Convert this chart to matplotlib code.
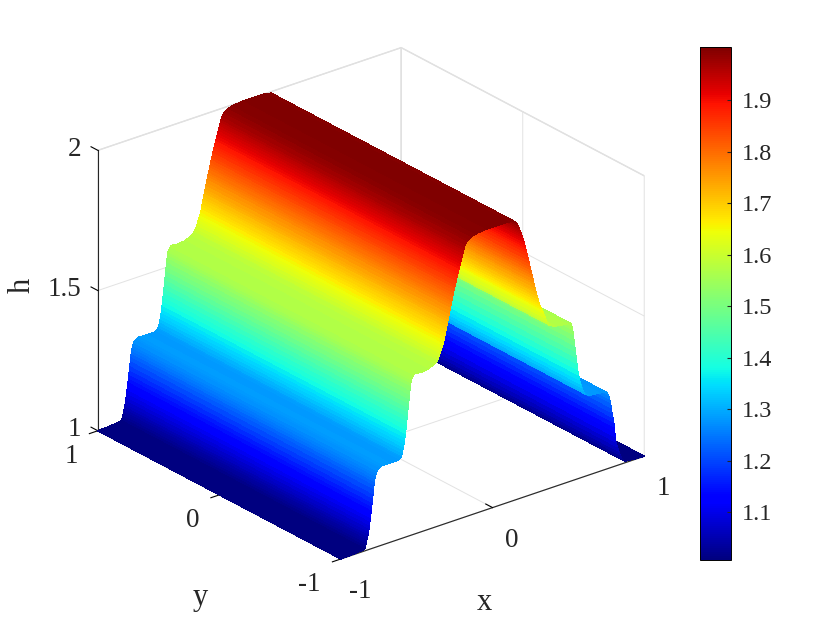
import matplotlib
matplotlib.use('Agg')
import matplotlib.pyplot as plt
import numpy as np
from matplotlib.cm import ScalarMappable
from matplotlib.colors import Normalize

plt.rcParams['font.family'] = ['Liberation Serif', 'DejaVu Serif']

x_vals = [-1.0, -0.92, -0.847, -0.84, -0.836, -0.833, -0.83, -0.827, -0.824, -0.821, -0.818, -0.815, -0.812,
          -0.809, -0.806, -0.803, -0.8, -0.797, -0.794, -0.791, -0.788, -0.785, -0.782, -0.779, -0.776, -0.772,
          -0.768, -0.762, -0.755, -0.746, -0.73, -0.68, -0.622, -0.61, -0.604, -0.6, -0.596, -0.592, -0.588,
          -0.584, -0.581, -0.578, -0.575, -0.572, -0.569, -0.566, -0.563, -0.56, -0.557, -0.554, -0.551, -0.548,
          -0.545, -0.542, -0.539, -0.536, -0.531, -0.526, -0.514, -0.471, -0.43, -0.386, -0.368, -0.36, -0.352,
          -0.346, -0.34, -0.335, -0.33, -0.325, -0.32, -0.316, -0.313, -0.31, -0.306, -0.303, -0.3, -0.296,
          -0.293, -0.29, -0.286, -0.282, -0.278, -0.274, -0.271, -0.268, -0.264, -0.261, -0.258, -0.254, -0.25,
          -0.246, -0.243, -0.24, -0.236, -0.232, -0.228, -0.224, -0.22, -0.216, -0.212, -0.208, -0.204, -0.2,
          -0.196, -0.193, -0.19, -0.186, -0.18, -0.172, -0.164, -0.148, -0.12, -0.094, -0.05, 0.0, 0.05, 0.1,
          0.142, 0.15, 0.158, 0.166, 0.174, 0.18, 0.185, 0.19, 0.196, 0.201, 0.206, 0.21, 0.215, 0.22, 0.225,
          0.23, 0.236, 0.241, 0.246, 0.25, 0.255, 0.259, 0.264, 0.269, 0.273, 0.278, 0.283, 0.287, 0.292, 0.297,
          0.302, 0.308, 0.315, 0.322, 0.329, 0.336, 0.346, 0.356, 0.368, 0.38, 0.41, 0.486, 0.518, 0.522, 0.526,
          0.532, 0.536, 0.54, 0.545, 0.55, 0.555, 0.56, 0.566, 0.572, 0.58, 0.588, 0.596, 0.604, 0.618, 0.636,
          0.7, 0.754, 0.759, 0.764, 0.77, 0.776, 0.781, 0.786, 0.792, 0.798, 0.801, 0.804, 0.808, 0.812, 0.82,
          0.83, 0.84, 0.85, 0.86, 0.872, 0.94, 1.0]
h_vals = [1.0, 1.002, 1.006, 1.012, 1.02, 1.028, 1.035, 1.041, 1.049, 1.057, 1.066, 1.077, 1.088,
          1.101, 1.113, 1.126, 1.14, 1.152, 1.165, 1.18, 1.195, 1.212, 1.226, 1.237, 1.246, 1.255,
          1.263, 1.272, 1.277, 1.28, 1.284, 1.283, 1.283, 1.288, 1.292, 1.296, 1.305, 1.315, 1.325,
          1.335, 1.346, 1.357, 1.371, 1.385, 1.4, 1.415, 1.43, 1.445, 1.46, 1.475, 1.49, 1.505,
          1.52, 1.535, 1.545, 1.554, 1.56, 1.565, 1.572, 1.569, 1.572, 1.581, 1.59, 1.597, 1.605,
          1.615, 1.625, 1.632, 1.64, 1.648, 1.657, 1.668, 1.677, 1.685, 1.695, 1.702, 1.71, 1.72,
          1.727, 1.735, 1.746, 1.756, 1.767, 1.776, 1.783, 1.79, 1.8, 1.807, 1.815, 1.823, 1.832,
          1.84, 1.847, 1.855, 1.865, 1.872, 1.879, 1.886, 1.894, 1.902, 1.91, 1.918, 1.927, 1.935,
          1.943, 1.949, 1.955, 1.962, 1.972, 1.978, 1.983, 1.99, 1.995, 1.998, 2.0, 2.0, 2.0, 2.0,
          1.995, 1.99, 1.985, 1.975, 1.964, 1.955, 1.947, 1.94, 1.93, 1.92, 1.911, 1.9, 1.89, 1.88, 1.868,
          1.855, 1.84, 1.827, 1.815, 1.804, 1.792, 1.782, 1.77, 1.757, 1.748, 1.735, 1.723, 1.715, 1.703, 1.692,
          1.681, 1.67, 1.66, 1.65, 1.64, 1.631, 1.614, 1.599, 1.588, 1.58, 1.572, 1.565, 1.561, 1.55, 1.54,
          1.521, 1.5, 1.48, 1.458, 1.436, 1.413, 1.39, 1.37, 1.351, 1.335, 1.32, 1.308, 1.298, 1.29, 1.284,
          1.281, 1.272, 1.266, 1.26, 1.247, 1.233, 1.214, 1.195, 1.177, 1.159, 1.142, 1.125, 1.105, 1.086, 1.068,
          1.05, 1.035, 1.021, 1.012, 1.006, 1.002, 1.0]
y_vals = [-1, 1]

xy_ticks = [-1, 0, 1]
z_ticks = [1, 1.5, 2]
cbar_ticks = [1.1, 1.2, 1.3, 1.4, 1.5, 1.6, 1.7, 1.8, 1.9]

X, Y = np.meshgrid(x_vals, y_vals)
Z = np.tile(h_vals, (len(y_vals), 1))

fig = plt.figure(figsize=(8.4, 6.3), dpi=100)
ax = fig.add_axes([0.022, 0.0256, 0.82, 0.96], projection='3d', proj_type='ortho')
ax.view_init(elev=25, azim=-128.7)
ax.set_box_aspect((1, 1, 0.796), zoom=1.0125)

norm = Normalize(1.007, 2.003)
surf = ax.plot_surface(X, Y, Z, cmap='jet', norm=norm, rstride=1, cstride=1, linewidth=0.3,
                       antialiased=False, shade=False)
surf.set_edgecolor('face')

ax.set_xlim(-1, 1, view_margin=0)
ax.set_ylim(-1, 1, view_margin=0)
ax.set_zlim(1, 2, view_margin=0)
ax.set_xticks(xy_ticks, ['-1', '0', '1'])
ax.set_yticks(xy_ticks, ['-1', '0', '1'])
ax.set_zticks(z_ticks, ['1', '1.5', '2'])
ax.zaxis.set_ticks_position('upper')
ax.zaxis._get_tickdir = lambda position: 1
ax.tick_params(labelsize=19.5, labelcolor='#262626')
ax.tick_params(axis='x', pad=10)
ax.tick_params(axis='y', pad=7)
ax.tick_params(axis='z', pad=-1)

for t in ax.xaxis.get_ticklabels():
    t.set_va('center')
for t in ax.yaxis.get_ticklabels():
    t.set_va('center')
    t.set_ha('right')
for t in ax.zaxis.get_ticklabels():
    t.set_va('center')
    t.set_ha('right')

for axis in (ax.xaxis, ax.yaxis, ax.zaxis):
    axis.set_pane_color((1, 1, 1, 1))
    axis.pane.set_edgecolor('#dcdcdc')
    axis.line.set_color('#262626')
    axis.line.set_linewidth(0.8)
    axis._axinfo['grid'].update(color='#e2e2e2', linewidth=0.7)
    axis._axinfo['tick'].update(inward_factor=0.0, outward_factor=0.35, color='#262626')
ax.yaxis._axinfo['tick'].update(inward_factor=0.35, outward_factor=0.0)

# axis titles sit where matlab put them, mplot3d cant place them there
fig.text(484 / 840, 1 - 603 / 630, 'x', fontsize=22, color='#262626', ha='center', va='center')
fig.text(200 / 840, 1 - 597 / 630, 'y', fontsize=22, color='#262626', ha='center', va='center')
fig.text(22 / 840, 1 - 285 / 630, 'h', fontsize=22, color='#262626', ha='center', va='center', rotation=90)

cax = fig.add_axes([700 / 840, 70 / 630, 31 / 840, 513 / 630])
cbar = fig.colorbar(ScalarMappable(norm, 'jet'), cax=cax)
cbar.set_ticks(cbar_ticks, labels=[str(v) for v in cbar_ticks])
cbar.ax.tick_params(labelsize=17.5, length=3, direction='in', color='#262626', labelcolor='#262626', pad=8)
cbar.outline.set_linewidth(0.7)

plt.savefig('out.png', dpi=100)
